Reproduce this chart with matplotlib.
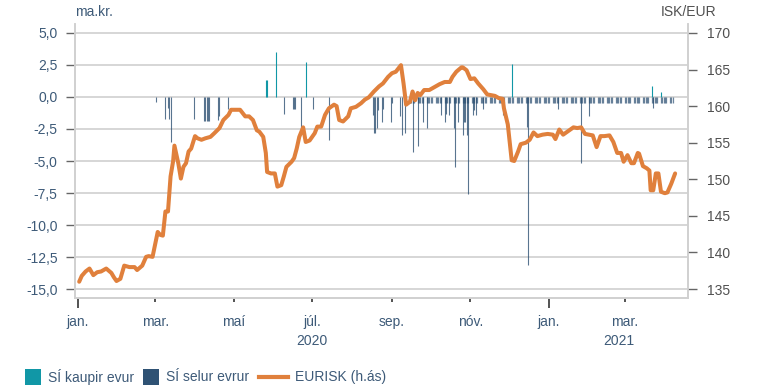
import matplotlib
matplotlib.use("Agg")
import matplotlib.pyplot as plt
from matplotlib.patches import Rectangle
from matplotlib.lines import Line2D
import pandas as pd

plt.rcParams['font.family'] = ['Liberation Sans', 'DejaVu Sans']

# EURISK exchange rate (right axis)
rate_dates = [
    "2020-01-02", "2020-01-04", "2020-01-07", "2020-01-10", "2020-01-13",
    "2020-01-16", "2020-01-19", "2020-01-23", "2020-01-27", "2020-01-29",
    "2020-01-31", "2020-02-03", "2020-02-06", "2020-02-10", "2020-02-14",
    "2020-02-16", "2020-02-20", "2020-02-23", "2020-02-25", "2020-02-28",
    "2020-03-03", "2020-03-05", "2020-03-07", "2020-03-09", "2020-03-11",
    "2020-03-13", "2020-03-15", "2020-03-16", "2020-03-19", "2020-03-21",
    "2020-03-23", "2020-03-25", "2020-03-27", "2020-03-29", "2020-04-01",
    "2020-04-03", "2020-04-06", "2020-04-09", "2020-04-13", "2020-04-16",
    "2020-04-20", "2020-04-23", "2020-04-27", "2020-04-29", "2020-05-03",
    "2020-05-06", "2020-05-10", "2020-05-13", "2020-05-16", "2020-05-19",
    "2020-05-21", "2020-05-24", "2020-05-26", "2020-05-27", "2020-05-30",
    "2020-06-02", "2020-06-04", "2020-06-07", "2020-06-09", "2020-06-11",
    "2020-06-15", "2020-06-17", "2020-06-19", "2020-06-21", "2020-06-24",
    "2020-06-26", "2020-06-29", "2020-07-03", "2020-07-05", "2020-07-08",
    "2020-07-11", "2020-07-14", "2020-07-18", "2020-07-20", "2020-07-22",
    "2020-07-25", "2020-07-29", "2020-07-31", "2020-08-04", "2020-08-08",
    "2020-08-11", "2020-08-14", "2020-08-18", "2020-08-22", "2020-08-25",
    "2020-08-29", "2020-09-01", "2020-09-04", "2020-09-08", "2020-09-10",
    "2020-09-12", "2020-09-15", "2020-09-17", "2020-09-19", "2020-09-21",
    "2020-09-23", "2020-09-26", "2020-09-30", "2020-10-04", "2020-10-08",
    "2020-10-12", "2020-10-16", "2020-10-18", "2020-10-21", "2020-10-25",
    "2020-10-26", "2020-10-29", "2020-11-01", "2020-11-04", "2020-11-07",
    "2020-11-11", "2020-11-14", "2020-11-20", "2020-11-23", "2020-11-26",
    "2020-11-27", "2020-11-30", "2020-12-03", "2020-12-05", "2020-12-08",
    "2020-12-10", "2020-12-14", "2020-12-17", "2020-12-20", "2020-12-23",
    "2020-12-27", "2020-12-31", "2021-01-04", "2021-01-06", "2021-01-09",
    "2021-01-12", "2021-01-16", "2021-01-20", "2021-01-23", "2021-01-26",
    "2021-01-29", "2021-02-01", "2021-02-04", "2021-02-07", "2021-02-10",
    "2021-02-13", "2021-02-17", "2021-02-20", "2021-02-23", "2021-02-26",
    "2021-02-28", "2021-03-03", "2021-03-06", "2021-03-08", "2021-03-11",
    "2021-03-12", "2021-03-15", "2021-03-18", "2021-03-20", "2021-03-21",
    "2021-03-23", "2021-03-25", "2021-03-27", "2021-03-29", "2021-04-01",
    "2021-04-03", "2021-04-06", "2021-04-09",
]
rate_values = [
    136.0, 136.8, 137.4, 137.8, 136.9,
    137.3, 137.4, 137.8, 137.2, 136.6,
    136.1, 136.4, 138.2, 138.0, 138.0,
    137.6, 138.2, 139.4, 139.5, 139.4,
    142.8, 142.4, 142.3, 145.6, 145.6,
    150.4, 152.5, 154.6, 152.2, 150.1,
    151.7, 152.2, 153.8, 154.2, 155.9,
    155.6, 155.4, 155.6, 155.8, 156.3,
    157.0, 158.1, 158.8, 159.5, 159.5,
    159.5, 158.6, 158.6, 158.1, 156.7,
    156.5, 155.8, 153.6, 151.0, 150.8,
    150.8, 149.0, 149.2, 150.4, 151.7,
    152.4, 152.9, 154.2, 155.8, 157.1,
    155.1, 155.3, 156.3, 157.2, 157.2,
    158.8, 159.7, 160.2, 160.0, 158.1,
    157.9, 158.6, 159.7, 159.9, 160.4,
    160.9, 161.2, 162.0, 162.7, 163.1,
    164.0, 164.5, 164.7, 165.6, 163.1,
    160.2, 160.6, 162.0, 160.8, 161.8,
    161.5, 162.2, 162.2, 162.6, 163.0,
    163.3, 163.3, 164.0, 164.7, 165.3,
    165.3, 164.9, 163.7, 163.8, 163.1,
    162.3, 161.6, 161.4, 161.1, 161.0,
    159.7, 157.5, 152.6, 152.5, 153.8,
    154.8, 155.0, 155.4, 156.4, 155.9,
    156.1, 156.2, 156.1, 155.5, 156.8,
    156.1, 156.6, 157.1, 157.0, 157.1,
    156.2, 156.1, 156.0, 154.4, 155.9,
    155.9, 156.0, 155.1, 153.6, 153.6,
    152.4, 153.3, 152.2, 152.2, 153.6,
    153.5, 151.8, 151.5, 151.2, 148.5,
    148.5, 150.8, 150.8, 148.3, 148.1,
    148.2, 149.4, 150.8,
]

# Central bank purchases of euros, ma.kr.
buy_dates = ["2020-05-26", "2020-05-27", "2020-06-03", "2020-06-26",
             "2020-12-03", "2021-03-22", "2021-03-29"]
buy_values = [1.33, 1.33, 3.54, 2.76, 2.58, 0.86, 0.42]

# Regular daily sales from mid September, ma.kr.
regular_start = "2020-09-14"
regular_end = "2021-04-07"
regular_value = -0.47

# Other sales of euros, ma.kr.
sell_dates = [
    "2020-03-02", "2020-03-09", "2020-03-11", "2020-03-12", "2020-03-13",
    "2020-03-31", "2020-04-08", "2020-04-09", "2020-04-10", "2020-04-11",
    "2020-04-12", "2020-04-19", "2020-04-20", "2020-04-27", "2020-06-09",
    "2020-06-16", "2020-06-17", "2020-06-18", "2020-06-22", "2020-07-02",
    "2020-07-14", "2020-08-17", "2020-08-18", "2020-08-19", "2020-08-20",
    "2020-08-21", "2020-08-24", "2020-08-25", "2020-08-31", "2020-09-01",
    "2020-09-07", "2020-09-09", "2020-09-11", "2020-09-17", "2020-09-21",
    "2020-09-25", "2020-09-28", "2020-10-09", "2020-10-12", "2020-10-13",
    "2020-10-15", "2020-10-19", "2020-10-20", "2020-10-22", "2020-10-26",
    "2020-10-27", "2020-10-28", "2020-10-29", "2020-10-30", "2020-11-03",
    "2020-11-04", "2020-11-05", "2020-11-11", "2020-11-26", "2020-12-15",
    "2020-12-16", "2021-01-08", "2021-01-26", "2021-02-01", "2021-03-23",
]
sell_values = [
    -0.41, -1.74, -0.88, -1.74, -3.55,
    -1.72, -1.85, -1.85, -1.85, -1.85,
    -1.85, -1.8, -1.5, -0.9, -1.35,
    -0.9, -0.9, -0.9, -2.4, -0.9,
    -3.35, -1.4, -2.84, -2.84, -2.45,
    -1.0, -1.93, -0.95, -1.93, -0.5,
    -1.45, -2.97, -2.84, -4.3, -3.85,
    -1.93, -2.45, -1.4, -1.93, -1.3,
    -1.4, -2.45, -5.45, -1.93, -2.97,
    -1.93, -1.93, -2.97, -7.55, -1.4,
    -1.0, -1.4, -0.95, -1.4, -2.32,
    -13.1, -0.96, -5.18, -1.45, -0.88,
]

left_ticks = [5, 2.5, 0, -2.5, -5, -7.5, -10, -12.5, -15]
right_ticks = [170, 165, 160, 155, 150, 145, 140, 135]
month_ticks = ["2020-01-01", "2020-03-01", "2020-05-01", "2020-07-01",
               "2020-09-01", "2020-11-01", "2021-01-01", "2021-03-01"]
month_labels = ["jan.", "mar.", "maí", "júl.", "sep.", "nóv.", "jan.", "mar."]
year_labels = [("2020", "2020-07-01"), ("2021", "2021-02-24")]

TEAL = "#1197a6"
NAVY = "#2f5274"
ORANGE = "#e0803c"
BLUE_TXT = "#3d5a78"
GREY_TXT = "#505050"
GRID = "#cbcbcb"
FS = 10

W, H = 764, 387
fig = plt.figure(figsize=(W / 100, H / 100), dpi=100)
ax = fig.add_axes([75 / W, 1 - 298 / H, 613 / W, 274 / H])
ax2 = ax.twinx()

reg_dates = pd.bdate_range(regular_start, regular_end)
ax.vlines(reg_dates, 0, [regular_value] * len(reg_dates), color=NAVY,
          lw=0.9, alpha=0.7, zorder=3)
ax.vlines(pd.to_datetime(sell_dates), 0, sell_values, color=NAVY, lw=0.8,
          alpha=0.8, zorder=3)
ax.vlines(pd.to_datetime(buy_dates), 0, buy_values, color=TEAL, lw=0.8,
          zorder=3)

ax2.plot(pd.to_datetime(rate_dates), rate_values, color=ORANGE, lw=2.9,
         solid_joinstyle='round', solid_capstyle='round', zorder=4)

ylo, yhi = -15.7, 5.7
ax.set_ylim(ylo, yhi)
ax2.set_ylim(135 + 1.75 * (ylo + 15), 135 + 1.75 * (yhi + 15))
ax.set_xlim(pd.Timestamp("2019-12-29 18:00"), pd.Timestamp("2021-04-19"))

ax.set_yticks(left_ticks)
ax.set_yticklabels([f"{v:.1f}".replace(".", ",") for v in left_ticks])
ax2.set_yticks(right_ticks)
ax2.set_yticklabels([str(v) for v in right_ticks])
for v in left_ticks:
    ax.axhline(v, color=GRID, lw=1.1, zorder=1)

ax.set_xticks(pd.to_datetime(month_ticks))
ax.set_xticklabels(month_labels)

for a in (ax, ax2):
    a.patch.set_visible(False)
    a.spines['top'].set_visible(False)
    for s in ('left', 'right', 'bottom'):
        a.spines[s].set_color("#d0d0d0")
        a.spines[s].set_linewidth(1.2)
ax2.set_zorder(ax.get_zorder() + 1)

ax.tick_params(axis='y', length=6.5, width=1, color="#666666", pad=6,
               labelsize=FS, labelcolor=BLUE_TXT)
ax2.tick_params(axis='y', length=6.5, width=1, color="#666666", pad=7,
                labelsize=FS, labelcolor=GREY_TXT)
ax.tick_params(axis='x', length=3, width=1.3, color="#444444", pad=9,
               labelsize=FS, labelcolor=BLUE_TXT)
for pos, tick in zip(month_ticks, ax.xaxis.get_major_ticks()):
    if pos.endswith("01-01"):
        tick.tick1line.set_markersize(7.5)

for txt, pos in year_labels:
    ax.text(pd.Timestamp(pos), -0.158, txt, transform=ax.get_xaxis_transform(),
            ha='center', va='center', fontsize=FS, color=BLUE_TXT)

fig.text(75 / W, 1 - 12 / H, "ma.kr.", ha='left', va='center', fontsize=FS,
         color=BLUE_TXT)
fig.text(688.5 / W, 1 - 12 / H, "ISK/EUR", ha='center', va='center',
         fontsize=FS, color=GREY_TXT)

# legend drawn in figure pixels
ly = 1 - 377 / H
fig.add_artist(Rectangle((25 / W, 1 - 385 / H), 16 / W, 16 / H,
                         transform=fig.transFigure, color=TEAL, lw=0))
fig.text(48 / W, ly, "SÍ kaupir evur", ha='left', va='center', fontsize=FS,
         color=BLUE_TXT)
fig.add_artist(Rectangle((143 / W, 1 - 385 / H), 16 / W, 16 / H,
                         transform=fig.transFigure, color=NAVY, lw=0))
fig.text(166 / W, ly, "SÍ selur evrur", ha='left', va='center', fontsize=FS,
         color=BLUE_TXT)
fig.add_artist(Line2D([259 / W, 288 / W], [ly, ly], transform=fig.transFigure,
                      color=ORANGE, lw=3))
fig.text(295 / W, ly, "EURISK (h.ás)", ha='left', va='center', fontsize=FS,
         color=BLUE_TXT)

fig.savefig("out.png", dpi=100)
